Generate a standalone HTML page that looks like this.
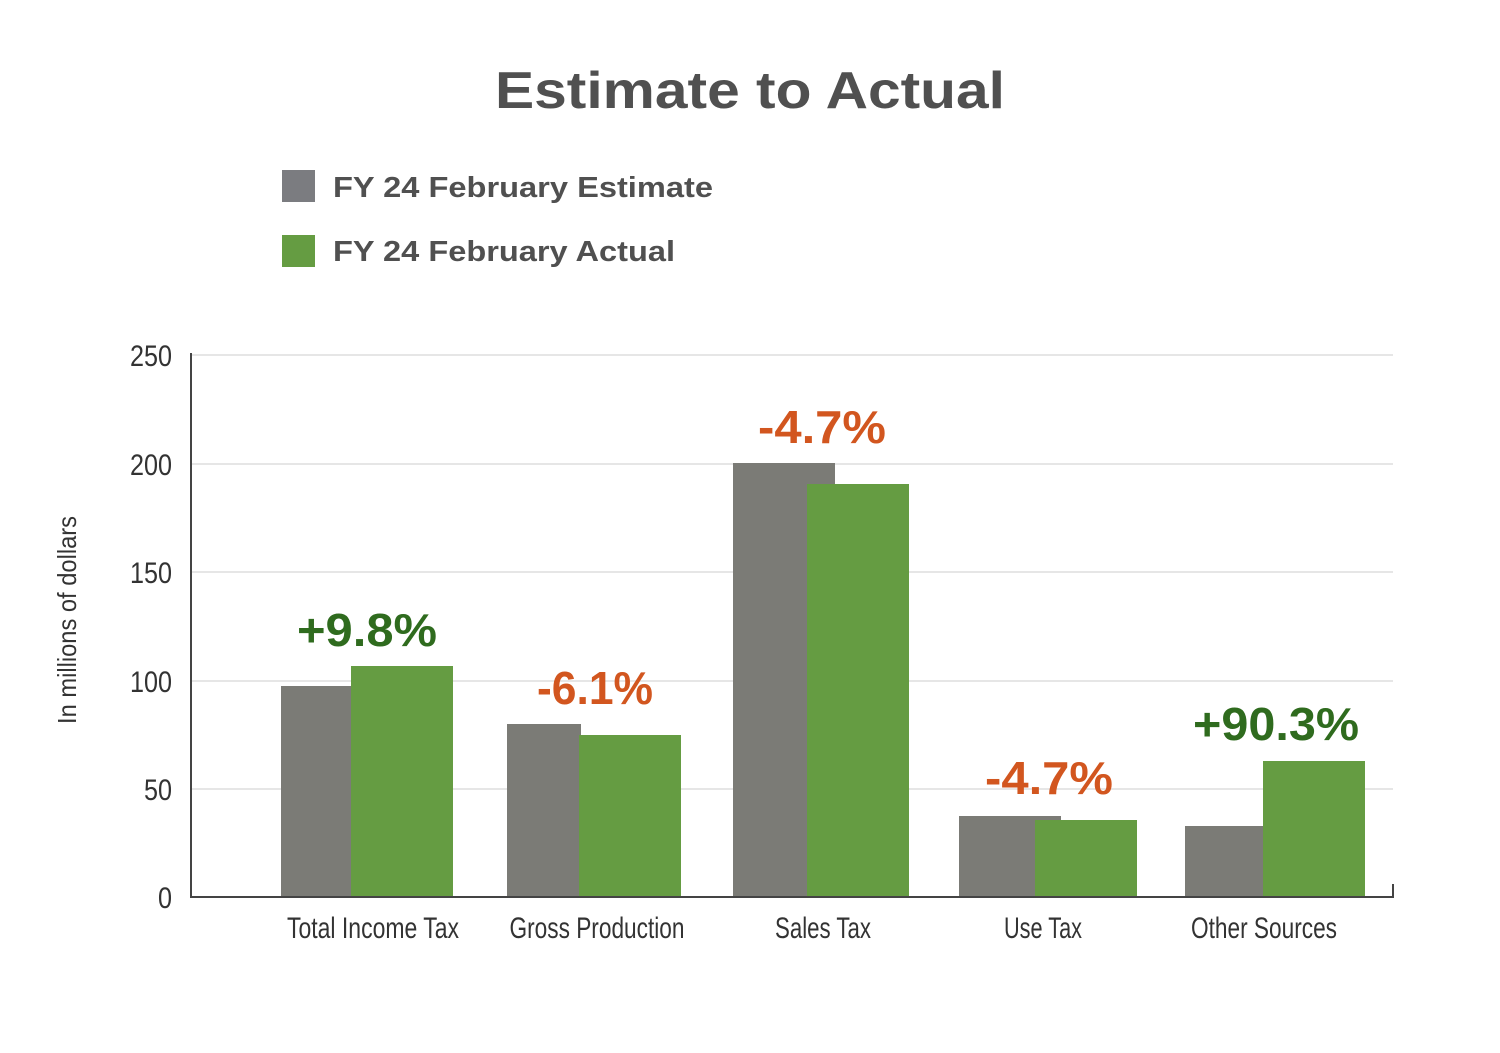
<!DOCTYPE html>
<html><head><style>html,body{margin:0;padding:0;background:#fff;}</style></head>
<body>
<svg width="1500" height="1053" xmlns="http://www.w3.org/2000/svg" style="display:block">
<rect width="1500" height="1053" fill="#fff"/>
<text x="750" y="108" text-anchor="middle" font-family="Liberation Sans, sans-serif" font-weight="bold" font-size="52" fill="#505050" textLength="510" lengthAdjust="spacingAndGlyphs">Estimate to Actual</text>
<rect x="282" y="170" width="33" height="32" fill="#7b7c80"/>
<rect x="282" y="235" width="33" height="32" fill="#659c42"/>
<text x="333" y="197" font-family="Liberation Sans, sans-serif" font-weight="bold" font-size="29" fill="#505050" textLength="380" lengthAdjust="spacingAndGlyphs">FY 24 February Estimate</text>
<text x="333" y="261" font-family="Liberation Sans, sans-serif" font-weight="bold" font-size="29" fill="#505050" textLength="342" lengthAdjust="spacingAndGlyphs">FY 24 February Actual</text>
<g stroke="#e6e6e6" stroke-width="2">
<line x1="192" y1="355" x2="1393" y2="355"/>
<line x1="192" y1="464" x2="1393" y2="464"/>
<line x1="192" y1="572" x2="1393" y2="572"/>
<line x1="192" y1="681" x2="1393" y2="681"/>
<line x1="192" y1="789" x2="1393" y2="789"/>
</g>
<g font-family="Liberation Sans, sans-serif" font-size="30" fill="#333" text-anchor="end">
<text x="172" y="366" textLength="42" lengthAdjust="spacingAndGlyphs">250</text>
<text x="172" y="475" textLength="42" lengthAdjust="spacingAndGlyphs">200</text>
<text x="172" y="583" textLength="42" lengthAdjust="spacingAndGlyphs">150</text>
<text x="172" y="692" textLength="42" lengthAdjust="spacingAndGlyphs">100</text>
<text x="172" y="800" textLength="28" lengthAdjust="spacingAndGlyphs">50</text>
<text x="172" y="908" textLength="14" lengthAdjust="spacingAndGlyphs">0</text>
</g>
<text transform="translate(76,620) rotate(-90)" text-anchor="middle" font-family="Liberation Sans, sans-serif" font-size="26" fill="#333" textLength="208" lengthAdjust="spacingAndGlyphs">In millions of dollars</text>
<g fill="#7b7b76">
<rect x="281" y="686" width="72" height="212"/>
<rect x="507" y="724" width="74" height="174"/>
<rect x="733" y="463" width="102" height="435"/>
<rect x="959" y="816" width="102" height="82"/>
<rect x="1185" y="826" width="102" height="72"/>
</g>
<g fill="#659c42">
<rect x="351" y="666" width="102" height="232"/>
<rect x="579" y="735" width="102" height="163"/>
<rect x="807" y="484" width="102" height="414"/>
<rect x="1035" y="820" width="102" height="78"/>
<rect x="1263" y="761" width="102" height="137"/>
</g>
<line x1="191" y1="353" x2="191" y2="898" stroke="#444" stroke-width="2"/>
<line x1="190" y1="897" x2="1394" y2="897" stroke="#444" stroke-width="2"/>
<line x1="1393" y1="884" x2="1393" y2="898" stroke="#444" stroke-width="2"/>
<g font-family="Liberation Sans, sans-serif" font-size="30" fill="#333" text-anchor="middle">
<text x="373" y="938" textLength="172" lengthAdjust="spacingAndGlyphs">Total Income Tax</text>
<text x="597" y="938" textLength="175" lengthAdjust="spacingAndGlyphs">Gross Production</text>
<text x="823" y="938" textLength="96" lengthAdjust="spacingAndGlyphs">Sales Tax</text>
<text x="1043" y="938" textLength="78" lengthAdjust="spacingAndGlyphs">Use Tax</text>
<text x="1264" y="938" textLength="146" lengthAdjust="spacingAndGlyphs">Other Sources</text>
</g>
<g font-family="Liberation Sans, sans-serif" font-weight="bold" font-size="46" text-anchor="middle">
<text x="367" y="646" fill="#2f6b1e" textLength="140" lengthAdjust="spacingAndGlyphs">+9.8%</text>
<text x="595" y="704" fill="#d2561f" textLength="116" lengthAdjust="spacingAndGlyphs">-6.1%</text>
<text x="822" y="443" fill="#d2561f" textLength="128" lengthAdjust="spacingAndGlyphs">-4.7%</text>
<text x="1049" y="794" fill="#d2561f" textLength="128" lengthAdjust="spacingAndGlyphs">-4.7%</text>
<text x="1276" y="740" fill="#2f6b1e" textLength="166" lengthAdjust="spacingAndGlyphs">+90.3%</text>
</g>
</svg>
</body></html>
